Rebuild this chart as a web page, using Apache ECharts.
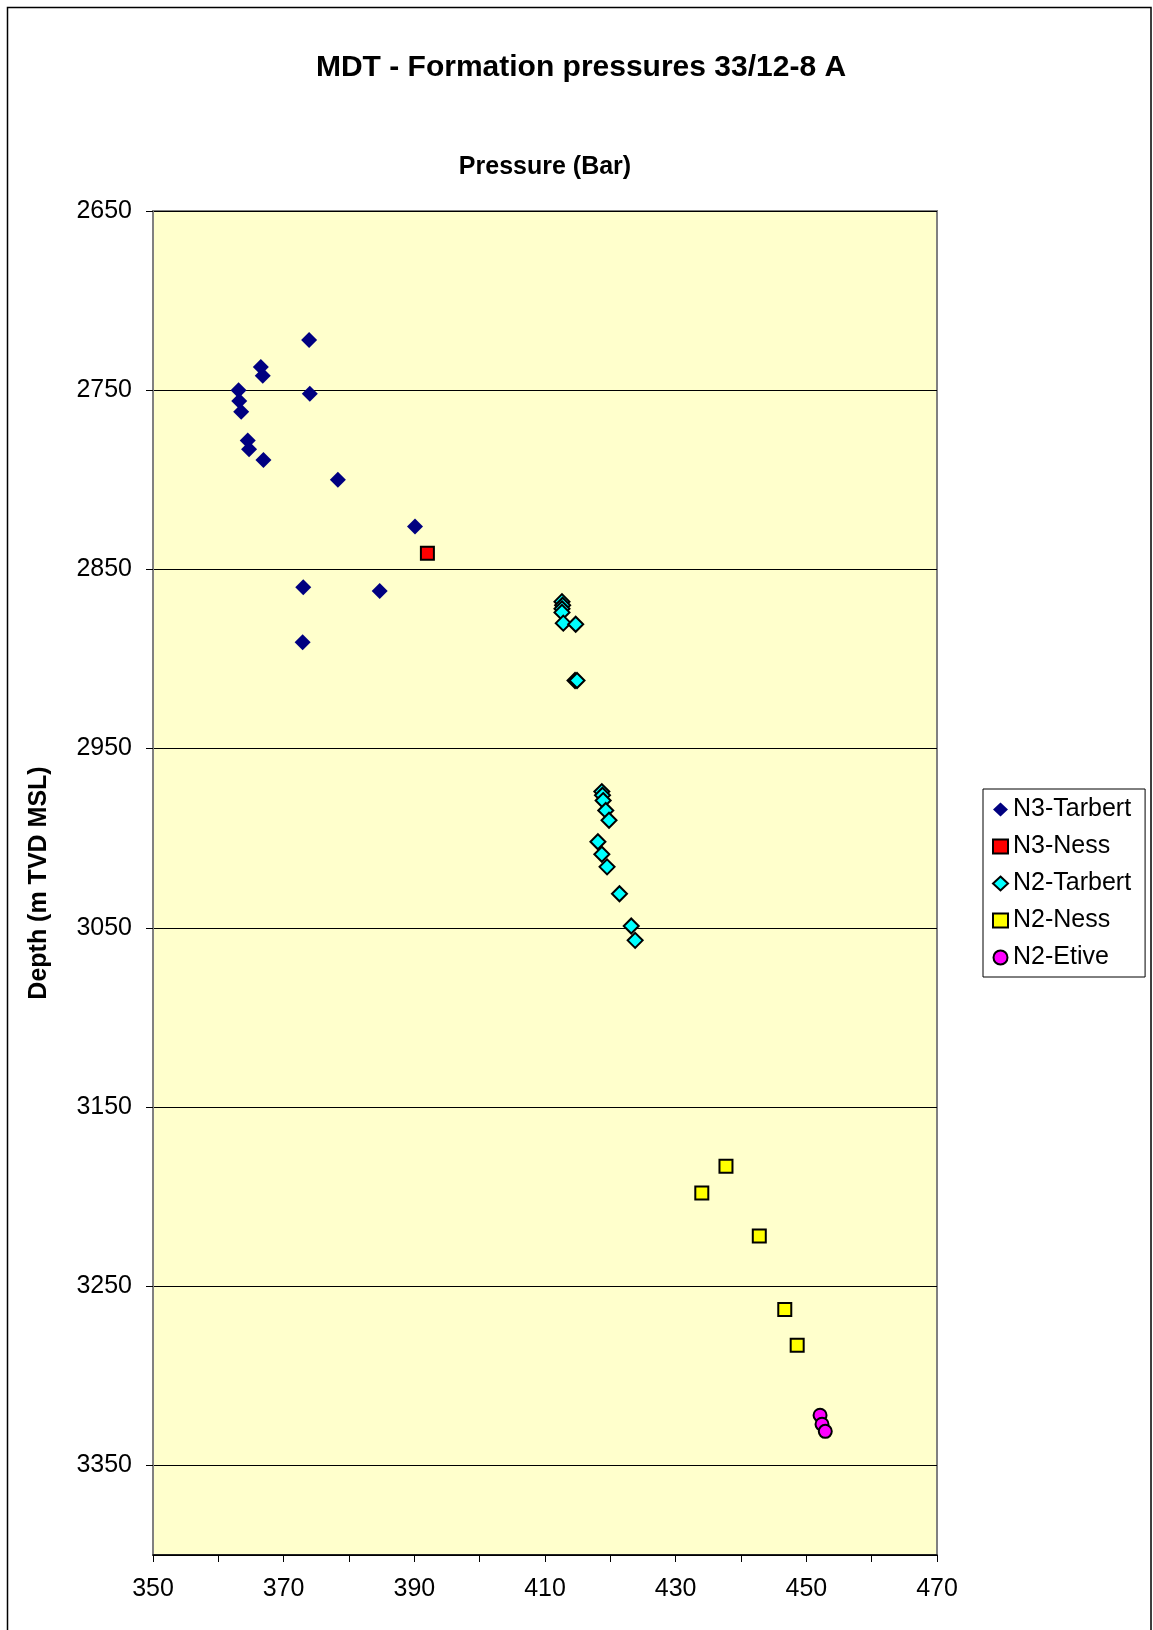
<!DOCTYPE html>
<html>
<head>
<meta charset="utf-8">
<script src="https://cdn.jsdelivr.net/npm/echarts@6/dist/echarts.min.js"></script>
<style>
html,body{margin:0;padding:0;background:#fff;}
#chart{width:1153px;height:1630px;}
</style>
</head>
<body>
<div id="chart"></div>
<script>
// Series names
var seriesNames = ['N3-Tarbert', 'N3-Ness', 'N2-Tarbert', 'N2-Ness', 'N2-Etive'];
// [pressure (bar), depth (m TVD MSL)]
var n3Tarbert = [[373.9,2722],[366.5,2737],[366.8,2742],[363.1,2750],[363.2,2756],[363.5,2762],[374.0,2752],[364.5,2778],[364.7,2783],[366.9,2789],[378.3,2800],[390.1,2826],[373.0,2860],[384.7,2862],[372.9,2890.6]];
var n3Ness = [[392.0,2841]];
var n2Tarbert = [[412.6,2868],[412.7,2870],[412.6,2872],[412.6,2874],[412.8,2880],[414.7,2880.6],[414.6,2912],[414.9,2912],[418.7,2974],[418.8,2976],[418.9,2979],[419.3,2984.5],[419.8,2990],[418.1,3002],[418.7,3009],[419.5,3016],[421.4,3031],[423.2,3049],[423.8,3057]];
var n2Ness = [[437.7,3183],[434.0,3198],[442.8,3222],[446.7,3263],[448.6,3283]];
var n2Etive = [[452.1,3322],[452.4,3327],[452.9,3331]];
// Axis settings
var xMin = 350, xMax = 470, xStep = 10, xLabelStep = 20;
var yMin = 2650, yMax = 3400, yStep = 100;

var FONT = '"Liberation Sans", Arial, sans-serif';
var chart = echarts.init(document.getElementById('chart'), null, {renderer: 'canvas'});
chart.setOption({
  backgroundColor: '#ffffff',
  animation: false,
  textStyle: {fontFamily: FONT, color: '#000'},
  graphic: [
    {type: 'rect', shape: {x: 7.5, y: 7.5, width: 1143.5, height: 1660}, style: {fill: 'none', stroke: '#000', lineWidth: 1.5}, silent: true, z: 0},
    {type: 'text', x: 581, y: 68, style: {text: 'MDT - Formation pressures 33/12-8 A', font: 'bold 30px ' + FONT, fill: '#000', textAlign: 'center', textVerticalAlign: 'middle'}},
    {type: 'text', x: 545, y: 167, style: {text: 'Pressure (Bar)', font: 'bold 25px ' + FONT, fill: '#000', textAlign: 'center', textVerticalAlign: 'middle'}}
  ],
  grid: {left: 153, top: 211, width: 784, height: 1344, show: true, backgroundColor: '#FFFFCC', borderColor: '#808080', borderWidth: 2, containLabel: false},
  xAxis: {
    type: 'value', min: xMin, max: xMax, interval: xStep,
    axisLine: {show: true, lineStyle: {color: '#000', width: 1.5}},
    axisTick: {show: true, length: 7, lineStyle: {color: '#000'}},
    splitLine: {show: false},
    axisLabel: {fontSize: 25, color: '#000', fontFamily: FONT, margin: 22,
      formatter: function (v) { return ((v - xMin) % xLabelStep === 0) ? String(v) : ''; }}
  },
  yAxis: {
    type: 'value', inverse: true, min: yMin, max: yMax, interval: yStep,
    name: 'Depth (m TVD MSL)', nameLocation: 'middle', nameGap: 101, nameRotate: 90,
    nameTextStyle: {fontSize: 25, fontWeight: 'bold', color: '#000', fontFamily: FONT},
    axisLine: {show: true, lineStyle: {color: '#808080', width: 2}},
    axisTick: {show: true, length: 7, lineStyle: {color: '#000'}},
    splitLine: {show: true, lineStyle: {color: '#000', width: 1}},
    axisLabel: {fontSize: 25, color: '#000', fontFamily: FONT, margin: 21, showMaxLabel: false,
      formatter: function (v) { return String(v); }}
  },
  legend: {
    orient: 'vertical', left: 983, top: 789,
    padding: [8, 14, 7, 9], itemGap: 12, itemWidth: 15, itemHeight: 14,
    borderColor: '#000', borderWidth: 1, backgroundColor: '#fff',
    textStyle: {fontSize: 25, color: '#000', fontFamily: FONT},
    data: seriesNames
  },
  series: [
    {name: seriesNames[0], type: 'scatter', data: n3Tarbert, symbol: 'diamond', symbolSize: 16,
      itemStyle: {color: '#000080', borderWidth: 0, opacity: 1}},
    {name: seriesNames[1], type: 'scatter', data: n3Ness, symbol: 'rect', symbolSize: 13,
      itemStyle: {color: '#FF0000', borderColor: '#000', borderWidth: 2, opacity: 1}},
    {name: seriesNames[2], type: 'scatter', data: n2Tarbert, symbol: 'diamond', symbolSize: 15,
      itemStyle: {color: '#00FFFF', borderColor: '#000', borderWidth: 2, opacity: 1}},
    {name: seriesNames[3], type: 'scatter', data: n2Ness, symbol: 'rect', symbolSize: 13,
      itemStyle: {color: '#FFFF00', borderColor: '#000', borderWidth: 2, opacity: 1}},
    {name: seriesNames[4], type: 'scatter', data: n2Etive, symbol: 'circle', symbolSize: 13,
      itemStyle: {color: '#FF00FF', borderColor: '#000', borderWidth: 2, opacity: 1}}
  ]
});
</script>
</body>
</html>
